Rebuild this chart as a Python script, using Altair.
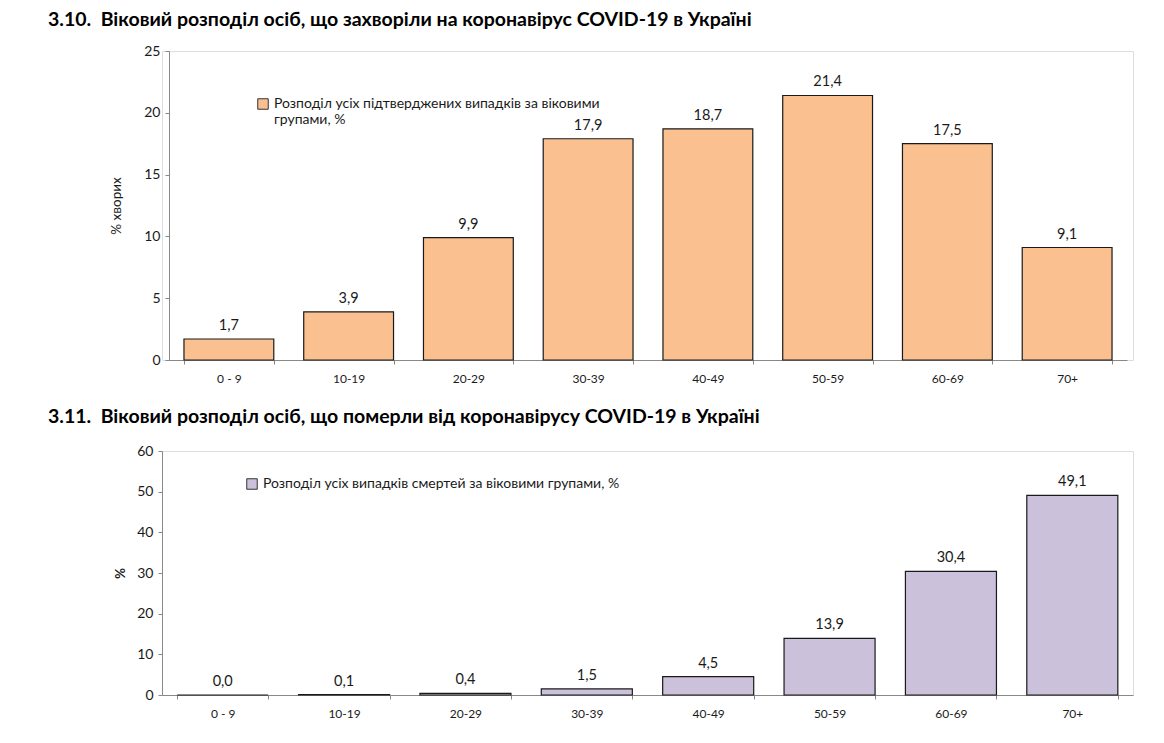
import altair as alt
import pandas as pd

groups = ["0 - 9", "10-19", "20-29", "30-39", "40-49", "50-59", "60-69", "70+"]
cases = [1.7, 3.9, 9.9, 17.9, 18.7, 21.4, 17.5, 9.1]
deaths = [0.0, 0.1, 0.4, 1.5, 4.5, 13.9, 30.4, 49.1]
cases_legend = "Розподіл усіх підтверджених випадків за віковими групами, %"
cases_legend_lines = ["Розподіл усіх підтверджених випадків за віковими", "групами, %"]
deaths_legend = "Розподіл усіх випадків смертей за віковими групами, %"
title1 = "3.10.\u00a0 Віковий розподіл осіб, що захворіли на коронавірус COVID-19 в Україні"
title2 = "3.11.\u00a0 Віковий розподіл осіб, що померли від коронавірусу COVID-19 в Україні"
ytitle1 = "% хворих"
ytitle2 = "%"
yticks1 = [0, 5, 10, 15, 20, 25]
yticks2 = [0, 10, 20, 30, 40, 50, 60]

FONT = "Lato"
TXT = "#1a1a1a"
AX = "#888888"

df1 = pd.DataFrame({"group": groups, "value": cases, "series": cases_legend})
df2 = pd.DataFrame({"group": groups, "value": deaths, "series": deaths_legend})


def panel(df, color, ytitle, ytitle_weight, ytitle_pad, yticks, width, height,
          xrange, yoffset, title, title_offset, legend_x, legend_y, label_expr):
    base = alt.Chart(df).transform_calculate(
        label="replace(format(datum.value, '.1f'), '.', ',')"
    )
    x = alt.X(
        "group:N", sort=groups,
        scale=alt.Scale(range=xrange, paddingInner=0.25, paddingOuter=0.125),
        axis=alt.Axis(title=None, labelAngle=0, tickBand="extent", labelFontSize=12,
                      labelPadding=9, tickSize=4, domainColor=AX, tickColor=AX,
                      labelColor=TXT, labelFont=FONT),
    )
    y = alt.Y(
        "value:Q",
        scale=alt.Scale(domain=[min(yticks), max(yticks)], nice=False),
        axis=alt.Axis(values=yticks, title=ytitle, grid=False, offset=yoffset,
                      tickSize=4, domainColor=AX, tickColor=AX, labelColor=TXT,
                      labelFontSize=14, labelFont=FONT, labelPadding=5,
                      titleFont=FONT, titleFontSize=13.5, titleFontWeight=ytitle_weight,
                      titleColor=TXT, titlePadding=ytitle_pad),
    )
    leg = dict(orient="none", legendX=legend_x, legendY=legend_y, title=None,
               symbolType="square", symbolSize=110, symbolStrokeColor="#333333",
               symbolStrokeWidth=1, labelFont=FONT, labelFontSize=14,
               labelColor=TXT, labelLimit=700)
    if label_expr:
        leg["labelExpr"] = label_expr
    bars = base.mark_bar(stroke="#1a1a1a", strokeWidth=1.2).encode(
        x=x, y=y,
        color=alt.Color("series:N", scale=alt.Scale(range=[color]),
                        legend=alt.Legend(**leg)),
    )
    labels = base.mark_text(dy=-9, baseline="alphabetic", fontSize=14.5, font=FONT,
                            color=TXT).encode(
        x=alt.X("group:N", sort=groups), y="value:Q", text="label:N"
    )
    return alt.layer(bars, labels).properties(
        width=width, height=height,
        title=alt.TitleParams(text=title, anchor="start", frame="group", dx=-114,
                              fontSize=19.5, font=FONT, fontWeight="bold",
                              color="#000000", offset=title_offset),
    )


expr1 = "['" + cases_legend_lines[0] + "', '" + cases_legend_lines[1] + "']"
p1 = panel(df1, "#FAC090", ytitle1, "normal", 20, yticks1, 971, 309, [7, 965], -7,
           title1, 14, 94, 46, expr1)
p2 = panel(df2, "#CCC1DA", ytitle2, "bold", 9, yticks2, 971, 244, [0, 971], 0,
           title2, 17, 83, 26, None)

chart = alt.vconcat(p1, p2, spacing=21).resolve_scale(
    color="independent"
).resolve_legend(color="independent").configure_view(stroke=None).configure(
    font=FONT, padding={"left": 39, "top": 1, "right": 5, "bottom": 5}
)

chart.save("out.html", embed_options={"renderer": "svg", "actions": False})
